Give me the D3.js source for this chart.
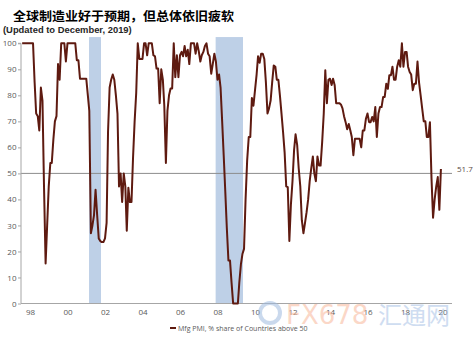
<!DOCTYPE html>
<html><head><meta charset="utf-8">
<script src="https://cdn.jsdelivr.net/npm/d3@7"></script>
<style>body{margin:0;background:#fff}svg{display:block}</style>
</head><body><svg id="c" width="476" height="352"></svg>
<script>
const title = "全球制造业好于预期，但总体依旧疲软";
const subtitle = "(Updated to December, 2019)";
const seriesName = "Mfg PMI, % share of Countries above 50";
const firstMonth = "1997-08";
// monthly values, Aug 1997 .. Dec 2019
const pmiShare = [
  100,100,100,100,100,                                   // 1997 Aug-Dec
  100,100,100,85,73,72,66.5,83,78,45,15.4,30,            // 1998
  45,54,54,63,70,72,92,86,100,100,100,93,                // 1999
  100,100,100,100,100,100,93.5,93.5,86.4,86.4,86.4,86.4, // 2000
  86.4,80,74,27,30,34,43.7,34,25,24,23.6,23.6,           // 2001
  25,31,66,83,86,88,86,80,73,45,50,39,                   // 2002
  50,45,28,44.5,39,39,56,70,81,100,94,94,                // 2003
  94,100,100,95.4,100,100,100,95.4,95,90.3,90.3,77,      // 2004
  90,86,76,54,74,80,82.6,82.6,100,87,95.4,87,            // 2005
  95.4,96.7,95,99,95,97.5,92,100,100,100,96,100,         // 2006
  97,93,95.4,96.7,99,100,96,95,88.3,92,96,93,            // 2007
  86,88,83,70,57,43,29,16.5,16.5,8,0,0,                  // 2008
  0,0,8,15,19,21,40,55,64,64,79,76,                      // 2009
  82,88,95,92.5,96,96,94,85,73,75,78,85,                 // 2010
  91.5,91,86,86,80,73,66,58,45,44.7,24,38,               // 2011
  47,59,65,61,52,45,32,27,31,35,40,47,                   // 2012
  52,56.5,50,47,56.5,53,53,62,73,89.6,77,86,             // 2013
  86.4,84,86.4,84,77,77,77,76.5,75,72,69.7,67,           // 2014
  69,66.5,64,57,63.3,63.3,63.3,63.3,60,66.5,66.5,71,     // 2015
  73,69.7,69.7,71.7,70,75.5,64,73,75.5,75.5,79.4,79.4,   // 2016
  84.5,82.5,87.7,87.7,91,86,86,91,93.5,91,100,91,        // 2017
  96.7,96.7,91,89,88,82,84.5,84.5,93,85,80,75,           // 2018
  70,70,64,64,69.7,48,33,40,45,48.6,36,51.7              // 2019
];
const recessions = [["2001-02-24","2001-10-15"],["2007-11-26","2009-05-12"]];
const yTicks = [0,10,20,30,40,50,60,70,80,90,100];
const xTickYears = [1998,2000,2002,2004,2006,2008,2010,2012,2014,2016,2018,2020];
const refValue = 50;
const lastLabel = "51.7";

const parseM = d3.timeParse("%Y-%m");
const parseD = d3.timeParse("%Y-%m-%d");
const start = parseM(firstMonth);
const data = pmiShare.map((v,i)=>({date:d3.timeMonth.offset(start,i), v}));

const svg = d3.select("#c");
const x = d3.scaleTime().domain([new Date(1998,0,1), new Date(2020,0,1)]).range([30,442.5]);
const y = d3.scaleLinear().domain([0,100]).range([303.5,43.3]);
const plotTop = y(102.4), xLeft = 21, xRight = 452;

// recession shading
svg.append("g").selectAll("rect").data(recessions).join("rect")
  .attr("x", d=>x(parseD(d[0]))).attr("width", d=>x(parseD(d[1]))-x(parseD(d[0])))
  .attr("y", plotTop).attr("height", y(0)-plotTop).attr("fill","#bed0e7");

// reference line
svg.append("line").attr("x1",xLeft).attr("x2",xRight).attr("y1",y(refValue)).attr("y2",y(refValue))
  .attr("stroke","#8c8c8c").attr("stroke-width",1);

// y axis
const ya = svg.append("g").attr("transform",`translate(${xLeft},0)`)
  .call(d3.axisLeft(y).tickValues(yTicks).tickSize(3).tickPadding(1.5));
ya.select(".domain").attr("stroke","#a6a6a6").attr("d",`M-3,${y(100)}H0V${y(0)}`);
ya.selectAll(".tick line").attr("stroke","#a6a6a6");
ya.selectAll("text").attr("fill","#595959").style("font-family","'Open Sans', sans-serif").style("font-size","8px");

// x axis
const xa = svg.append("g").attr("transform",`translate(0,${y(0)})`)
  .call(d3.axisBottom(x).tickValues(xTickYears.map(yr=>new Date(yr,0,1))).tickSize(0).tickPadding(6)
    .tickFormat(d3.timeFormat("%y")));
xa.select(".domain").attr("stroke","#a6a6a6").attr("d",`M${xLeft},0H${xRight}`);
xa.selectAll("text").attr("fill","#595959").style("font-family","'Open Sans', sans-serif").style("font-size","8px");

// series line
svg.append("path").datum(data)
  .attr("d", d3.line().x(d=>x(d.date)).y(d=>y(d.v)))
  .attr("fill","none").attr("stroke","#5e1a10").attr("stroke-width",2).attr("stroke-linejoin","round");

// last value label
svg.append("text").attr("x",457).attr("y",y(refValue)-1).attr("fill","#5a4a44")
  .style("font-family","'Open Sans', sans-serif").style("font-size","8px").text(lastLabel);

// titles
svg.append("text").attr("x",13).attr("y",21).attr("fill","#000")
  .attr("textLength",221).attr("lengthAdjust","spacingAndGlyphs")
  .style("font-family","'Noto Sans CJK SC', sans-serif").style("font-weight","700").style("font-size","12.5px").text(title);
svg.append("text").attr("x",3).attr("y",33).attr("fill","#262626")
  .style("font-family","'Liberation Sans', Arial, sans-serif").style("font-weight","700").style("font-size","9.4px").text(subtitle);

// legend
svg.append("line").attr("x1",170).attr("x2",176).attr("y1",328).attr("y2",328).attr("stroke","#5e1a10").attr("stroke-width",2);
svg.append("text").attr("x",178).attr("y",330.5).attr("fill","#595959")
  .style("font-family","'Open Sans', sans-serif").style("font-size","7px").text(seriesName);

// watermark
const wm = svg.append("g").attr("opacity",0.55);
wm.append("circle").attr("cx",270).attr("cy",313).attr("r",10).attr("fill","none").attr("stroke","#9fbbe0").attr("stroke-width",4);
wm.append("text").attr("x",286).attr("y",324).attr("fill","#f8b89a")
  .style("font-family","'DejaVu Sans', sans-serif").style("font-size","26px").text("FX678");
wm.append("text").attr("x",378).attr("y",324).attr("fill","#a8c2e6")
  .style("font-family","'Noto Sans CJK SC', sans-serif").style("font-size","24px").text("汇通网");
</script></body></html>
